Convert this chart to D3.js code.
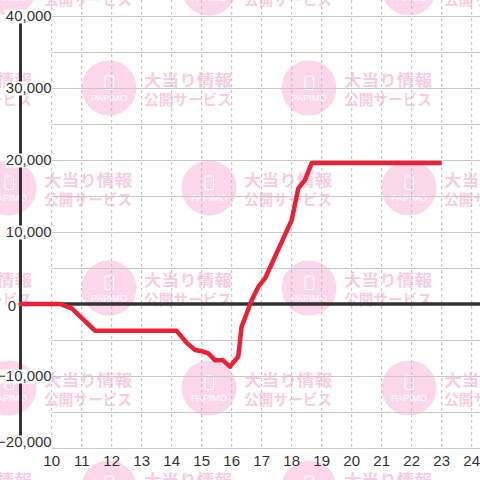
<!DOCTYPE html>
<html>
<head>
<meta charset="utf-8">
<script src="https://cdn.jsdelivr.net/npm/d3@7"></script>
<style>
  html, body { margin: 0; padding: 0; background: #fff; }
  svg { display: block; font-family: "Liberation Sans", Arial, sans-serif; }
</style>
</head>
<body>
<svg id="chart"></svg>
<script>
// Datos
var hours = [8.9, 10.28, 10.67, 11.44, 14.16, 14.5, 14.78, 15.05, 15.22, 15.44, 15.7, 15.94, 16.22, 16.33, 16.67, 16.89, 17.11, 18.0, 18.22, 18.44, 18.67, 23.0];
var diff = [0, 0, -600, -3700, -3700, -5400, -6400, -6600, -6850, -7800, -7800, -8700, -7300, -3150, 550, 2400, 3550, 11650, 16050, 17200, 19600, 19600];
var xTicks = [10, 11, 12, 13, 14, 15, 16, 17, 18, 19, 20, 21, 22, 23, 24];
var yGrid = [-20000, -15000, -10000, -5000, 0, 5000, 10000, 15000, 20000, 25000, 30000, 35000, 40000];
var yTicks = [-20000, -10000, 0, 10000, 20000, 30000, 40000];

var w = 480,
    h = 480;

var svg = d3.select('#chart')
    .attr('width', w)
    .attr('height', h);

var xScale = d3.scaleLinear()
    .domain([8.96, 24.277])
    .range([20.5, 480]);
var yScale = d3.scaleLinear()
    .domain([-20000, 40000])
    .range([448, 16]);

var plotLeft = xScale(10);

// marca de agua
var wm = svg.append('g');
for (var j = -1; j <= 5; j++) {
    var cy = -12 + j * 100;
    var off = (j % 2 === 0) ? 9 : 109;
    for (var cx = off - 200; cx < w + 100; cx += 200) {
        var g = wm.append('g').attr('transform', 'translate(' + cx + ',' + cy + ')');
        g.append('circle').attr('r', 27.5).attr('fill', '#fcd6eb');
        g.append('rect')
            .attr('x', -4).attr('y', -12).attr('width', 8.5).attr('height', 13.5)
            .attr('rx', 1.5)
            .attr('fill', 'none').attr('stroke', '#fff').attr('stroke-width', 1.2);
        g.append('text')
            .attr('x', -18).attr('y', 13)
            .attr('textLength', 36).attr('lengthAdjust', 'spacingAndGlyphs')
            .attr('font-size', 9).attr('fill', '#fff')
            .text('PAPIMO');
        g.append('text')
            .attr('x', 35).attr('y', -2)
            .attr('textLength', 88).attr('lengthAdjust', 'spacingAndGlyphs')
            .attr('font-family', '"Noto Sans CJK JP", sans-serif')
            .attr('font-weight', 'bold').attr('font-size', 16)
            .attr('fill', '#f7cde3')
            .text('大当り情報');
        g.append('text')
            .attr('x', 35).attr('y', 17)
            .attr('textLength', 88).attr('lengthAdjust', 'spacingAndGlyphs')
            .attr('font-family', '"Noto Sans CJK JP", sans-serif')
            .attr('font-weight', 'bold').attr('font-size', 15)
            .attr('fill', '#f7cde3')
            .text('公開サービス');
    }
}

// rejilla
svg.append('g').selectAll('line')
    .data(xTicks)
    .enter()
    .append('line')
    .attr('x1', function(d) { return xScale(d); })
    .attr('x2', function(d) { return xScale(d); })
    .attr('y1', 0)
    .attr('y2', yScale(-20000))
    .attr('stroke', '#bdbdbd')
    .attr('stroke-width', 1)
    .attr('stroke-dasharray', '3,3');

svg.append('g').selectAll('line')
    .data(yGrid)
    .enter()
    .append('line')
    .attr('x1', plotLeft)
    .attr('x2', w)
    .attr('y1', function(d) { return Math.round(yScale(d)) + 0.5; })
    .attr('y2', function(d) { return Math.round(yScale(d)) + 0.5; })
    .attr('stroke', '#c8c8c8')
    .attr('stroke-width', 1);

// ejes
svg.append('line')
    .attr('x1', xScale(8.96)).attr('x2', xScale(8.96))
    .attr('y1', yScale(40000)).attr('y2', yScale(-20000))
    .attr('stroke', '#333').attr('stroke-width', 3);

svg.append('line')
    .attr('x1', xScale(8.96)).attr('x2', w)
    .attr('y1', yScale(0)).attr('y2', yScale(0))
    .attr('stroke', '#333').attr('stroke-width', 3.5);

// linea
var line = d3.line()
    .x(function(d, i) { return xScale(hours[i]); })
    .y(function(d) { return yScale(d); });

svg.append('path')
    .datum(diff)
    .attr('d', line)
    .attr('fill', 'none')
    .attr('stroke', '#ea2136')
    .attr('stroke-width', 4.5)
    .attr('stroke-linejoin', 'round');

// etiquetas eje y
var fmt = d3.format(',');
var yLab = svg.append('g').selectAll('g')
    .data(yTicks)
    .enter()
    .append('g')
    .attr('transform', function(d) {
        var cy = yScale(d);
        if (d === -20000) cy -= 6;
        if (d === 0) cy += 1.5;
        var x = d === 0 ? 16 : plotLeft;
        return 'translate(' + x + ',' + cy + ')';
    });

yLab.append('text')
    .attr('text-anchor', 'end')
    .attr('dy', '0.35em')
    .attr('font-size', 15)
    .attr('fill', '#333')
    .text(function(d) { return fmt(d); });

yLab.each(function() {
    var t = d3.select(this).select('text');
    var bb = t.node().getBBox();
    d3.select(this).insert('rect', 'text')
        .attr('x', bb.x - 1)
        .attr('y', -6.5)
        .attr('width', bb.width + 1)
        .attr('height', 14)
        .attr('fill', '#fff');
});

// etiquetas eje x
svg.append('g').selectAll('text')
    .data(xTicks)
    .enter()
    .append('text')
    .attr('x', function(d) { return xScale(d); })
    .attr('y', 466)
    .attr('text-anchor', 'middle')
    .attr('font-size', 15)
    .attr('fill', '#333')
    .text(function(d) { return d; });
</script>
</body>
</html>
